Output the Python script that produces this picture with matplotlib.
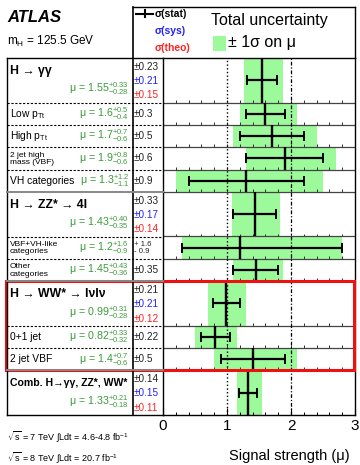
import numpy as np
import matplotlib
matplotlib.use("Agg")
import matplotlib.pyplot as plt
from matplotlib.patches import Rectangle

plt.rcParams['font.family'] = ['Liberation Sans', 'DejaVu Sans']
plt.rcParams['mathtext.fontset'] = 'custom'
plt.rcParams['mathtext.rm'] = 'Liberation Sans'
plt.rcParams['mathtext.it'] = 'Liberation Sans:italic'
plt.rcParams['mathtext.bf'] = 'Liberation Sans:bold'

# ---- data ----
labels = ['H → γγ', 'Low p$_{\\mathregular{Tt}}$', 'High p$_{\\mathregular{Tt}}$',
          '2 jet high\nmass (VBF)', 'VH categories',
          'H → ZZ* → 4l', 'VBF+VH-like\ncategories', 'Other\ncategories',
          'H → WW* → lνlν', '0+1 jet', '2 jet VBF',
          'Comb. H→γγ, ZZ*, WW*']
is_header = [1, 0, 0, 0, 0, 1, 0, 0, 1, 0, 0, 1]
mu = [1.55, 1.6, 1.7, 1.9, 1.3, 1.43, 1.2, 1.45, 0.99, 0.82, 1.4, 1.33]
mu_up = [0.33, 0.5, 0.7, 0.8, 1.2, 0.40, 1.6, 0.43, 0.31, 0.33, 0.7, 0.21]
mu_dn = [0.28, 0.4, 0.6, 0.6, 1.1, 0.35, 0.9, 0.36, 0.28, 0.32, 0.6, 0.18]
stat_up = [0.23, 0.3, 0.5, 0.6, 0.9, 0.33, 1.6, 0.35, 0.21, 0.22, 0.5, 0.14]
stat_dn = [0.23, 0.3, 0.5, 0.6, 0.9, 0.33, 0.9, 0.35, 0.21, 0.22, 0.5, 0.14]
mu_str = ['1.55', '1.6', '1.7', '1.9', '1.3', '1.43', '1.2', '1.45', '0.99', '0.82', '1.4', '1.33']
up_str = ['0.33', '0.5', '0.7', '0.8', '1.2', '0.40', '1.6', '0.43', '0.31', '0.33', '0.7', '0.21']
dn_str = ['0.28', '0.4', '0.6', '0.6', '1.1', '0.35', '0.9', '0.36', '0.28', '0.32', '0.6', '0.18']
stat_str = ['0.23', '0.3', '0.5', '0.6', '0.9', '0.33', None, '0.35', '0.21', '0.22', '0.5', '0.14']
sys_str = ['0.21', None, None, None, None, '0.17', None, None, '0.21', None, None, '0.15']
theo_str = ['0.15', None, None, None, None, '0.14', None, None, '0.12', None, None, '0.11']

GREEN = '#9cfa9a'
TXTGREEN = '#3a9a3a'

# layout: rows in units, header rows 2 units, others 1
heights = np.array([2 if h else 1 for h in is_header], dtype=float)
tops = np.concatenate([[0], np.cumsum(heights)[:-1]])
centers = tops + heights / 2
ntot = heights.sum()
Y0, Y1 = 58, 415
U = (Y1 - Y0) / ntot


def ypx(u):
    return Y0 + u * U


fig = plt.figure(figsize=(3.6, 4.65), dpi=100)

# ---- data axes ----
ax = fig.add_axes([163 / 360, 1 - 415 / 465, 192 / 360, 357 / 465])
ax.set_xlim(0, 3)
ax.set_ylim(ntot, 0)
ax.barh(centers, np.array(mu_up) + np.array(mu_dn), left=np.array(mu) - np.array(mu_dn),
        height=heights, color=GREEN, lw=0, zorder=1)
minor = np.arange(0, 3.001, 0.2)
for b in tops[1:]:
    ax.axhline(b, color='#444444', lw=0.9, zorder=2)
    ax.vlines(minor, b - 0.13, b, color='#333333', lw=0.7, zorder=2)
ax.axvline(1, color='k', ls=':', lw=1.0, zorder=3)
ax.axvline(2, color='k', ls=(0, (3, 1.5, 1, 1.5)), lw=0.9, zorder=3)
ax.vlines(mu, tops, tops + heights, color='k', lw=1.7, zorder=4)
ax.errorbar(mu, centers, xerr=[stat_dn, stat_up], fmt='none', ecolor='k',
            elinewidth=1.6, capsize=3.8, capthick=1.4, zorder=5)
ax.set_xticks([0, 1, 2, 3])
ax.set_xticks(minor, minor=True)
ax.set_yticks([])
ax.tick_params(axis='x', which='major', direction='in', length=5, width=0.8,
               labelsize=11, pad=3)
ax.tick_params(axis='x', which='minor', direction='in', length=2.5, width=0.7)
for s in ax.spines.values():
    s.set_linewidth(1.0)

# ---- canvas for table, legend and text ----
cv = fig.add_axes([0, 0, 1, 1], zorder=10)
cv.set_xlim(0, 360)
cv.set_ylim(465, 0)
cv.axis('off')
cv.patch.set_alpha(0)

# table frame
cv.plot([7, 7], [Y0, Y1], color='k', lw=1.0)
cv.plot([133, 133], [7, Y1], color='k', lw=1.2)
cv.plot([133, 355], [7, 7], color='k', lw=1.0)
cv.plot([355, 355], [7, Y0], color='k', lw=1.0)
cv.plot([7, 163], [Y0, Y0], color='k', lw=1.0)
cv.plot([7, 163], [Y1, Y1], color='k', lw=1.0)
for i in range(1, len(labels)):
    yb = ypx(tops[i])
    if is_header[i]:
        cv.plot([7, 163], [yb, yb], color='#888888', lw=1.4)
    else:
        cv.plot([7, 163], [yb, yb], color='k', lw=0.8, ls=(0, (2, 1.5)))

for i, lab in enumerate(labels):
    top = ypx(tops[i])
    mtxt = 'μ = $\\mathregular{%s^{+%s}_{-%s}}$' % (mu_str[i], up_str[i], dn_str[i])
    if is_header[i]:
        fs = 7.6 if i == len(labels) - 1 else 8.8
        cv.text(10, top + 13, lab, fontsize=fs, fontweight='bold', ha='left', va='center')
        cv.text(129, top + 31, mtxt, fontsize=7.7, color=TXTGREEN, ha='right', va='center')
        cv.text(134, top + 9, '±' + stat_str[i], fontsize=7.2, color='#222222', va='center')
        cv.text(134, top + 23, '±' + sys_str[i], fontsize=7.2, color='#2222ff', va='center')
        cv.text(134, top + 37.5, '±' + theo_str[i], fontsize=7.2, color='#ff2222', va='center')
    else:
        yc = ypx(centers[i])
        if '\n' in lab:
            cv.text(10, yc + 0.5, lab, fontsize=6.0, ha='left', va='center', linespacing=1.05)
        else:
            cv.text(10, yc, lab, fontsize=7.4, ha='left', va='center')
        cv.text(129, yc, mtxt, fontsize=7.7, color=TXTGREEN, ha='right', va='center')
        if stat_str[i] is None:
            cv.text(134, yc, '+ %s\n- %s' % (up_str[i], dn_str[i]), fontsize=5.6,
                    va='center', linespacing=1.05, color='#222222')
        else:
            cv.text(134, yc, '±' + stat_str[i], fontsize=7.2, va='center', color='#222222')

# red box around WW
r0 = ypx(tops[8])
r1 = ypx(tops[11])
cv.add_patch(Rectangle((6, r0), 348, r1 - r0, fill=False, ec='#ee1111', lw=2.2))

# header texts
cv.text(7, 18, 'ATLAS', fontsize=12, fontweight='bold', fontstyle='italic', va='center')
cv.text(7, 41, 'm$_{\\mathregular{H}}$ = 125.5 GeV', fontsize=8.5, va='center')

# legend
cv.plot([136, 153], [14, 14], color='k', lw=1.5)
cv.plot([144.5, 144.5], [10.5, 17.5], color='k', lw=1.5)
cv.text(155, 14, 'σ(stat)', fontsize=7.5, fontweight='bold', va='center')
cv.text(155, 31, 'σ(sys)', fontsize=7.5, fontweight='bold', color='#2222ff', va='center')
cv.text(155, 48, 'σ(theo)', fontsize=7.5, fontweight='bold', color='#ff2222', va='center')
cv.text(211, 21, 'Total uncertainty', fontsize=11.5, va='center')
cv.add_patch(Rectangle((213, 36), 13, 15, color=GREEN, lw=0))
cv.text(228, 43, '± 1σ on μ', fontsize=11.5, va='center')

# bottom texts
cv.text(7, 437, '$\\mathregular{\\sqrt{s}}$ = 7 TeV $\\int$Ldt = 4.6-4.8 fb$^{\\mathregular{-1}}$',
        fontsize=6.5, va='center')
cv.text(7, 458, '$\\mathregular{\\sqrt{s}}$ = 8 TeV $\\int$Ldt = 20.7 fb$^{\\mathregular{-1}}$',
        fontsize=6.5, va='center')
cv.text(350, 456, 'Signal strength (μ)', fontsize=10.5, ha='right', va='center')

fig.savefig('out.png', dpi=100)
